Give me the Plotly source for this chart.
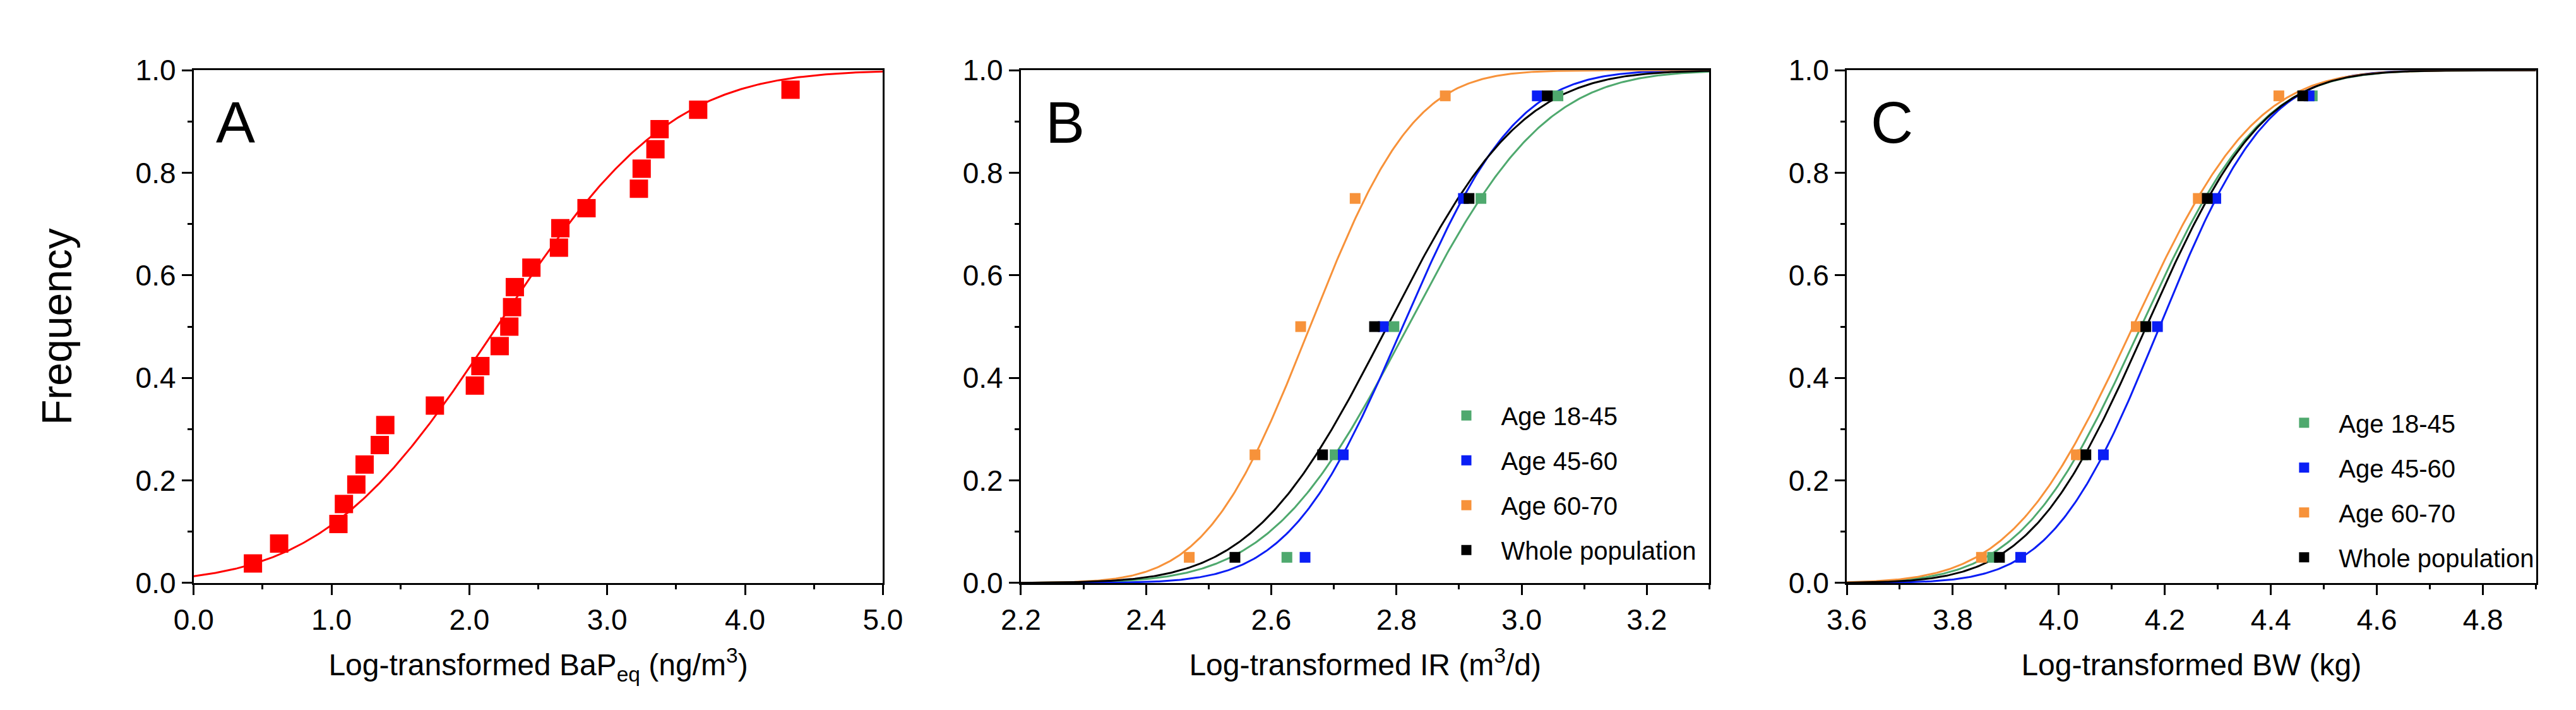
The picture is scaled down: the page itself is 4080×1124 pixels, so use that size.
import math
import plotly.graph_objects as go

# ---------------- data ----------------
# Panel A: log-transformed BaPeq, cumulative frequency
a_x = [0.43, 0.62, 1.05, 1.09, 1.18, 1.24, 1.35, 1.39, 1.75, 2.04, 2.08, 2.22, 2.29,
       2.31, 2.33, 2.45, 2.65, 2.66, 2.85, 3.23, 3.25, 3.35, 3.38, 3.66, 4.33]
a_y = [0.038, 0.077, 0.115, 0.154, 0.192, 0.231, 0.269, 0.308, 0.346, 0.385, 0.423,
       0.462, 0.500, 0.538, 0.577, 0.615, 0.654, 0.692, 0.731, 0.769, 0.808, 0.846,
       0.885, 0.923, 0.962]
a_fit = (2.20, 0.99)  # fitted normal CDF (mean, sd)

percentiles = [0.05, 0.25, 0.50, 0.75, 0.95]
groups = ["Age 18-45", "Age 45-60", "Age 60-70", "Whole population"]
colors = ["#4FA96E", "#0A1EF5", "#F7923A", "#000000"]

# Panel B: log-transformed IR
b_x = {
    "Age 18-45": [2.625, 2.702, 2.796, 2.935, 3.058],
    "Age 45-60": [2.654, 2.715, 2.779, 2.907, 3.025],
    "Age 60-70": [2.469, 2.574, 2.647, 2.734, 2.878],
    "Whole population": [2.542, 2.682, 2.765, 2.916, 3.041],
}
b_fit = {
    "Age 18-45": (2.818, 0.172),
    "Age 45-60": (2.810, 0.142),
    "Age 60-70": (2.662, 0.130),
    "Whole population": (2.785, 0.168),
}

# Panel C: log-transformed BW
c_x = {
    "Age 18-45": [3.875, 4.045, 4.160, 4.275, 4.478],
    "Age 45-60": [3.928, 4.084, 4.186, 4.296, 4.472],
    "Age 60-70": [3.854, 4.033, 4.146, 4.263, 4.415],
    "Whole population": [3.888, 4.051, 4.164, 4.280, 4.460],
}
c_fit = {
    "Age 18-45": (4.155, 0.178),
    "Age 45-60": (4.190, 0.158),
    "Age 60-70": (4.140, 0.180),
    "Whole population": (4.165, 0.172),
}


def cdf(xs, mu, sd):
    return [0.5 * (1 + math.erf((x - mu) / (sd * math.sqrt(2)))) for x in xs]


def grid(lo, hi, n=400):
    return [lo + (hi - lo) * i / (n - 1) for i in range(n)]


FONT = "Liberation Sans, Arial, sans-serif"
W, H = 4080, 1124

fig = go.Figure()

# Panel A
xa = grid(0.0, 5.0)
fig.add_trace(go.Scatter(x=xa, y=cdf(xa, *a_fit), mode="lines",
                         line=dict(color="#FF0000", width=3), showlegend=False,
                         xaxis="x", yaxis="y"))
fig.add_trace(go.Scatter(x=a_x, y=a_y, mode="markers",
                         marker=dict(symbol="square", size=29, color="#FF0000"),
                         showlegend=False, xaxis="x", yaxis="y"))

# Panel B & C
for xs_dict, fit_dict, lo, hi, xax, yax, leg in [
    (b_x, b_fit, 2.2, 3.3, "x2", "y2", "legend"),
    (c_x, c_fit, 3.6, 4.9, "x3", "y3", "legend2"),
]:
    xg = grid(lo, hi)
    for g, col in zip(groups, colors):
        fig.add_trace(go.Scatter(x=xg, y=cdf(xg, *fit_dict[g]), mode="lines",
                                 line=dict(color=col, width=3), showlegend=False,
                                 xaxis=xax, yaxis=yax))
    for g, col in zip(groups, colors):
        fig.add_trace(go.Scatter(x=xs_dict[g], y=percentiles, mode="markers", name=g,
                                 marker=dict(symbol="square", size=17, color=col),
                                 legend=leg, legendgroup=g + leg,
                                 xaxis=xax, yaxis=yax))

y0 = 1 - 932 / H
y1 = 1 - 81 / H
doms = [(271 / W, 1380 / W), (1602 / W, 2710 / W), (2931 / W, 4040 / W)]

axis_common = dict(
    showline=True, linecolor="black", linewidth=3, mirror=True,
    ticks="outside", ticklen=16, tickwidth=3, tickcolor="black",
    showgrid=False, zeroline=False,
    tickfont=dict(family=FONT, size=46, color="black"),
)

xtitles = [
    "Log-transformed BaP<sub>eq</sub> (ng/m<sup>3</sup>)",
    "Log-transformed IR (m<sup>3</sup>/d)",
    "Log-transformed BW (kg)",
]
xranges = [(0.0, 5.0), (2.2, 3.3), (3.6, 4.9)]
xdticks = [1.0, 0.2, 0.2]
xtick0 = [0.0, 2.2, 3.6]
xminor = [0.5, 0.1, 0.1]

layout = dict(
    width=W, height=H, margin=dict(l=0, r=0, t=0, b=0),
    paper_bgcolor="white", plot_bgcolor="white",
    font=dict(family=FONT, color="black"),
)

for i in range(3):
    sfx = "" if i == 0 else str(i + 1)
    layout["xaxis" + sfx] = dict(
        axis_common, domain=list(doms[i]), anchor="y" + sfx,
        range=list(xranges[i]), tick0=xtick0[i], dtick=xdticks[i], tickformat=".1f",
        minor=dict(ticks="outside", ticklen=7, tickwidth=3, tickcolor="black",
                   dtick=xminor[i], tick0=xtick0[i]),
        title=dict(text=xtitles[i], font=dict(family=FONT, size=48, color="black"),
                   standoff=30),
    )
    layout["yaxis" + sfx] = dict(
        axis_common, domain=[y0, y1], anchor="x" + sfx,
        range=[0, 1.0], tick0=0, dtick=0.2, tickformat=".1f",
        minor=dict(ticks="outside", ticklen=7, tickwidth=3, tickcolor="black",
                   dtick=0.1, tick0=0),
    )

layout["yaxis"]["title"] = dict(text="Frequency",
                                font=dict(family=FONT, size=66, color="black"),
                                standoff=80)

legend_common = dict(
    font=dict(family=FONT, size=40, color="black"),
    bgcolor="rgba(0,0,0,0)", borderwidth=0,
    traceorder="grouped", tracegroupgap=16, itemwidth=100,
    xanchor="left", yanchor="top",
)
layout["legend"] = dict(legend_common, x=2263 / W, y=1 - 620 / H)
layout["legend2"] = dict(legend_common, x=3611 / W, y=1 - 632 / H)

fig.update_layout(**layout)

# panel letters
for lab, px in [("A", 305), ("B", 1640), ("C", 2968)]:
    fig.add_annotation(text=lab, x=px / W, y=1 - 168 / H, xref="paper", yref="paper",
                       xanchor="left", yanchor="middle", showarrow=False,
                       font=dict(family=FONT, size=93, color="black"))

fig.write_html("out.html")
